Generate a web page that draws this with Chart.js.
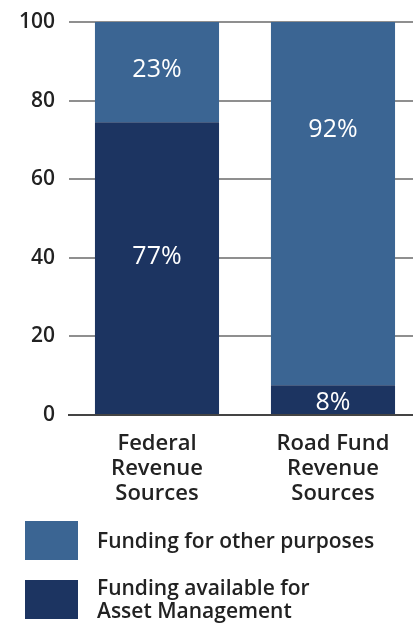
<!DOCTYPE html>
<html>
<head>
<meta charset="utf-8">
<script src="https://cdn.jsdelivr.net/npm/chart.js@4"></script>
<style>
  html, body { margin: 0; padding: 0; background: #fff; overflow: hidden; }
  #wrap { width: 413px; height: 625px; overflow: hidden; }
</style>
</head>
<body>
<div id="wrap"><canvas id="myChart" width="421" height="625"></canvas></div>
<script>
const categories = [['Federal', 'Revenue', 'Sources'], ['Road Fund', 'Revenue', 'Sources']];
// bar heights as drawn in the picture, and the percentages printed on them
const assetManagement = [74.5, 7.6];
const otherPurposes = [25.5, 92.4];
const assetLabels = ['77%', '8%'];
const otherLabels = ['23%', '92%'];
const yTicks = [0, 20, 40, 60, 80, 100];
const legendLabels = [['Funding for other purposes'], ['Funding available for', 'Asset Management']];

const darkBlue = '#1c3461';
const lightBlue = '#3b6593';
const textColor = '#222222';
const fontFamily = '"Open Sans", "Noto Sans", sans-serif';

// white labels on the bars; anchors are given in axis units (where the text sits)
const segmentLabels = {
    id: 'segmentLabels',
    afterDatasetsDraw(chart, args, opts) {
        const ctx = chart.ctx;
        const yScale = chart.scales.y;
        ctx.save();
        ctx.fillStyle = '#ffffff';
        ctx.font = '25px ' + fontFamily;
        ctx.textAlign = 'center';
        ctx.textBaseline = 'middle';
        chart.data.datasets.forEach((ds, i) => {
            chart.getDatasetMeta(i).data.forEach((bar, j) => {
                const y = yScale.getPixelForValue(opts.anchors[i][j]);
                ctx.fillText(ds.valueLabels[j], bar.x, y + 1);
            });
        });
        ctx.restore();
    }
};

// legend below the chart, squares with text on the right
const boxLegend = {
    id: 'boxLegend',
    afterDraw(chart) {
        const ctx = chart.ctx;
        const colors = [lightBlue, darkBlue];
        ctx.save();
        ctx.font = '600 21px ' + fontFamily;
        ctx.textBaseline = 'alphabetic';
        ctx.textAlign = 'left';
        legendLabels.forEach((lines, i) => {
            const top = 521 + i * 59;
            ctx.fillStyle = colors[i];
            ctx.fillRect(25, top, 53, 39);
            ctx.fillStyle = textColor;
            const base = top + 27 - (lines.length - 1) * 12;
            lines.forEach((line, k) => ctx.fillText(line, 97, base + k * 23));
        });
        ctx.restore();
    }
};

const ctx = document.getElementById('myChart').getContext('2d');
const myChart = new Chart(ctx, {
    type: 'bar',
    data: {
        labels: categories,
        datasets: [{
            label: 'Funding available for Asset Management',
            data: assetManagement,
            valueLabels: assetLabels,
            backgroundColor: darkBlue
        }, {
            label: 'Funding for other purposes',
            data: otherPurposes,
            valueLabels: otherLabels,
            backgroundColor: lightBlue
        }]
    },
    options: {
        responsive: false,
        animation: false,
        layout: { padding: { top: 22, bottom: 125, left: 0, right: 0 } },
        datasets: { bar: { barPercentage: 0.705, categoryPercentage: 1 } },
        plugins: {
            legend: { display: false },
            tooltip: { enabled: false },
            segmentLabels: { anchors: [[40.6, 3.3], [88, 72.8]] }
        },
        scales: {
            x: {
                stacked: true,
                grid: { display: false },
                border: { display: true, color: '#444444', width: 2 },
                ticks: {
                    color: textColor,
                    font: { family: fontFamily, size: 22, weight: 600, lineHeight: '25px' },
                    padding: 8,
                    maxRotation: 0
                },
                afterFit(scale) { scale.height = 85; }
            },
            y: {
                stacked: true,
                min: 0,
                max: 100,
                afterBuildTicks(scale) { scale.ticks = yTicks.map(v => ({ value: v })); },
                grid: { color: '#8f8f8f', lineWidth: 2, drawTicks: false },
                border: { display: false },
                ticks: {
                    color: textColor,
                    font: { family: fontFamily, size: 21, weight: 600 },
                    padding: 14
                },
                afterFit(scale) {
                    scale.width = 69;
                    scale.paddingTop = 0;
                    scale.paddingBottom = 0;
                }
            }
        }
    },
    plugins: [segmentLabels, boxLegend]
});
</script>
</body>
</html>
